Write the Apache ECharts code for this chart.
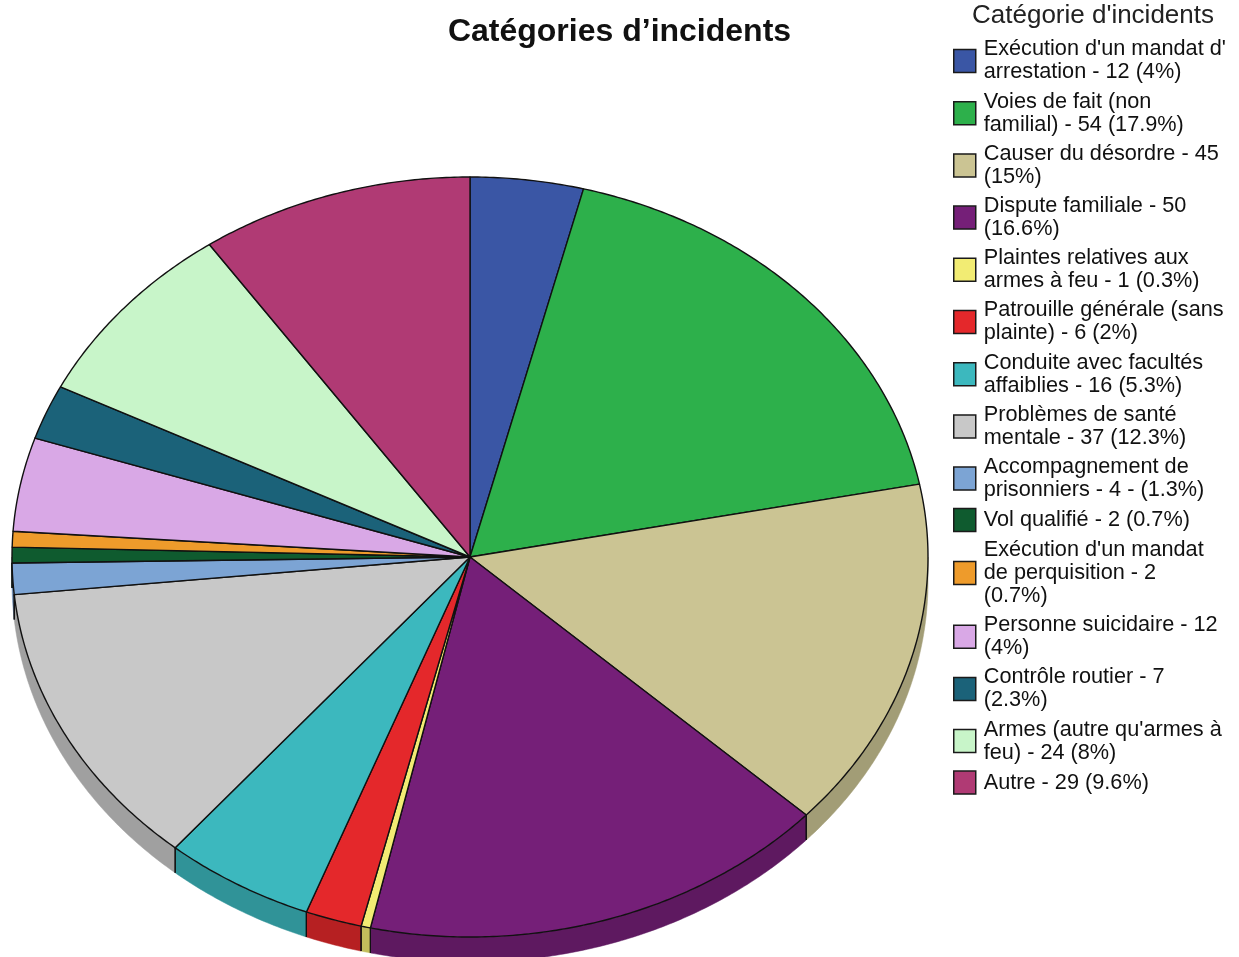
<!DOCTYPE html>
<html>
<head>
<meta charset="utf-8">
<script src="https://cdn.jsdelivr.net/npm/echarts@6/dist/echarts.min.js"></script>
<style>
html,body{margin:0;padding:0;background:#fff;}
#chart{width:1239px;height:957px;}
</style>
</head>
<body>
<div id="chart"></div>
<script>
// ---- data ----
const chartTitle = 'Catégories d’incidents';
const legendTitle = "Catégorie d'incidents";
const categories = [
  "Exécution d'un mandat d'\narrestation - 12 (4%)",
  "Voies de fait (non\nfamilial) - 54 (17.9%)",
  "Causer du désordre - 45\n(15%)",
  "Dispute familiale - 50\n(16.6%)",
  "Plaintes relatives aux\narmes à feu - 1 (0.3%)",
  "Patrouille générale (sans\nplainte) - 6 (2%)",
  "Conduite avec facultés\naffaiblies - 16 (5.3%)",
  "Problèmes de santé\nmentale - 37 (12.3%)",
  "Accompagnement de\nprisonniers - 4 - (1.3%)",
  "Vol qualifié - 2 (0.7%)",
  "Exécution d'un mandat\nde perquisition - 2\n(0.7%)",
  "Personne suicidaire - 12\n(4%)",
  "Contrôle routier - 7\n(2.3%)",
  "Armes (autre qu'armes à\nfeu) - 24 (8%)",
  "Autre - 29 (9.6%)"
];
const values = [12, 54, 45, 50, 1, 6, 16, 37, 4, 2, 2, 12, 7, 24, 29];
const colors = [
  '#3a56a5', '#2db04b', '#cbc493', '#751f78', '#f2ec73',
  '#e4282b', '#3cb8be', '#c8c8c8', '#7ca4d4', '#0f5b2f',
  '#ee9b2b', '#d9a8e6', '#1b6279', '#c8f5c9', '#b03a74'
];

// ---- layout (not data) ----
const CX = 470, CY = 557, RX = 458, RY = 380, DEPTH = 25;

const total = values.reduce((a, b) => a + b, 0);
const starts = [];
values.reduce((acc, v, i) => { starts[i] = acc; return acc + v; }, 0);

function shade(hex, f) {
  const n = parseInt(hex.slice(1), 16);
  const r = Math.round(((n >> 16) & 255) * f);
  const g = Math.round(((n >> 8) & 255) * f);
  const b = Math.round((n & 255) * f);
  return 'rgb(' + r + ',' + g + ',' + b + ')';
}

function pt(a, dy) {
  return [CX + RX * Math.sin(a), CY - RY * Math.cos(a) + (dy || 0)];
}
function arc(b0, b1, dy) {
  const n = Math.max(2, Math.ceil((b1 - b0) / (Math.PI / 360)));
  const out = [];
  for (let k = 0; k <= n; k++) out.push(pt(b0 + (b1 - b0) * k / n, dy));
  return out;
}

function renderItem(params, api) {
  const v = api.value(0), s = api.value(1), tot = api.value(2);
  const a0 = s / tot * 2 * Math.PI, a1 = (s + v) / tot * 2 * Math.PI;
  const color = api.visual('color');
  const children = [];
  const f0 = Math.max(a0, Math.PI / 2), f1 = Math.min(a1, 3 * Math.PI / 2);
  if (f1 > f0) {
    const top = arc(f0, f1, 0);
    const bottom = arc(f0, f1, DEPTH).reverse();
    children.push({
      type: 'polygon', z2: 1,
      shape: { points: top.concat(bottom) },
      style: { fill: shade(color, 0.8), stroke: shade(color, 0.8), lineWidth: 0.5 }
    });
    [a0, a1].forEach(function (a) {
      if (a >= Math.PI / 2 && a <= 3 * Math.PI / 2) {
        const p = pt(a, 0), q = pt(a, DEPTH);
        children.push({
          type: 'line', z2: 5,
          shape: { x1: p[0], y1: p[1], x2: q[0], y2: q[1] },
          style: { stroke: '#111', lineWidth: 1.2 }
        });
      }
    });
  }
  children.push({
    type: 'polygon', z2: 10,
    shape: { points: [[CX, CY]].concat(arc(a0, a1, 0)) },
    style: { fill: color, stroke: '#111', lineWidth: 1.4, lineJoin: 'round' }
  });
  return { type: 'group', children: children };
}

const series = categories.map(function (name, i) {
  return {
    type: 'custom',
    name: name,
    coordinateSystem: 'none',
    itemStyle: { color: colors[i] },
    renderItem: renderItem,
    data: [[values[i], starts[i], total]]
  };
});

const chart = echarts.init(document.getElementById('chart'), null, { renderer: 'canvas' });
chart.setOption({
  backgroundColor: '#fff',
  animation: false,
  title: [
    {
      text: chartTitle, left: 'center', top: 16, padding: 0,
      textStyle: { fontFamily: 'Liberation Sans, Arial, sans-serif', fontSize: 32, fontWeight: 'bold', color: '#111' }
    },
    {
      text: legendTitle, left: 972, top: 3, padding: 0,
      textStyle: { fontFamily: 'Liberation Sans, Arial, sans-serif', fontSize: 26, fontWeight: 'normal', color: '#222' }
    }
  ],
  legend: {
    orient: 'vertical',
    left: 953, top: 38, padding: 0,
    icon: 'rect',
    itemWidth: 22, itemHeight: 23, itemGap: 6.2,
    selectedMode: false,
    itemStyle: { borderColor: '#1a1a1a', borderWidth: 1.5 },
    textStyle: {
      fontFamily: 'Liberation Sans, Arial, sans-serif', fontSize: 21.7, lineHeight: 23,
      color: '#111', padding: [0, 0, 0, 3]
    },
    data: categories
  },
  series: series
});
</script>
</body>
</html>
